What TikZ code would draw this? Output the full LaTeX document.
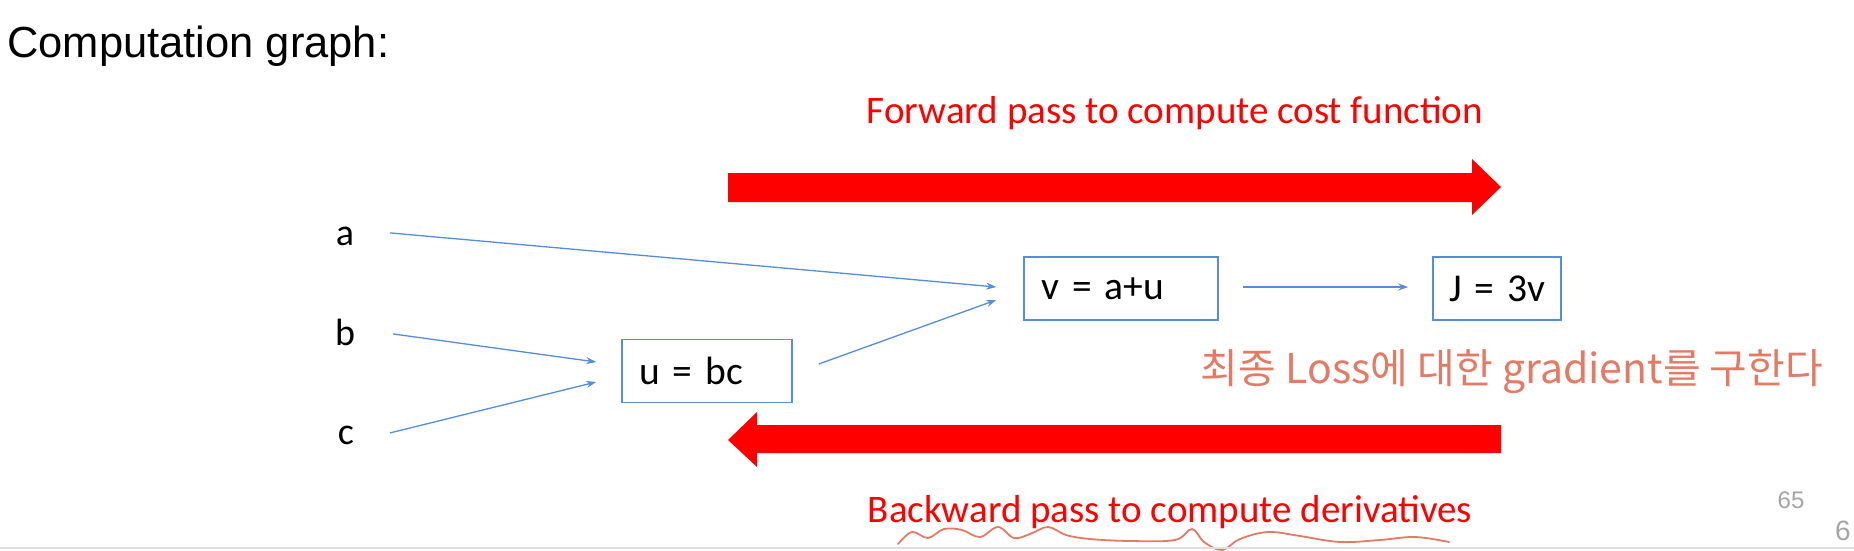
\documentclass[tikz,border=0pt]{standalone}
\usepackage{fontspec}
\setmainfont{Carlito}
\newfontfamily\arialfont{Liberation Sans}
\newfontfamily\krfont{Noto Sans CJK KR}
\usetikzlibrary{arrows.meta}
\definecolor{edgeblue}{RGB}{84,141,222}
\definecolor{hand}{RGB}{228,122,100}
\definecolor{pagegray}{RGB}{165,165,165}
\tikzset{
  lbl/.style={font=\fontsize{38}{44}\selectfont, inner sep=0pt, anchor=base},
  opbox/.style={draw=edgeblue, line width=1.5pt, minimum height=63pt, inner sep=0pt, align=left, font=\fontsize{39.5}{46}\selectfont},
  conn/.style={draw=edgeblue, line width=1.3pt, -{Stealth[length=10pt,width=7pt]}},
  bigarrow/.style={fill=red, draw=none},
  redtext/.style={text=red, font=\fontsize{39}{44}\selectfont, inner sep=0pt, anchor=base},
}
\begin{document}
\begin{tikzpicture}[x=1pt,y=-1pt]
\useasboundingbox (0,0) rectangle (1854,551);
\fill[white] (0,0) rectangle (1854,551);
% title
\node[anchor=base west, inner sep=0pt, font=\arialfont\fontsize{43.5}{50}\selectfont] (title) at (7,57) {Computation graph:};
% pass labels
\node[redtext] (fwd) at (1175,123) {Forward pass to compute cost function};
\node[redtext] (bwd) at (1170,522) {Backward pass to compute derivatives};
% big arrows
\fill[bigarrow] (728,173) -- (1472,173) -- (1472,159) -- (1501,187) -- (1472,215) -- (1472,202) -- (728,202) -- cycle;
\fill[bigarrow] (1501,425) -- (757,425) -- (757,412) -- (728,440) -- (757,467) -- (757,453) -- (1501,453) -- cycle;
% inputs
\node[lbl] (a) at (345,245) {a};
\node[lbl] (b) at (345,345) {b};
\node[lbl] (c) at (346,444) {c};
% operation boxes
\node[opbox, minimum width=170pt, text width=136pt] (u) at (707,371) {\mbox{u = bc}};
\node[opbox, minimum width=194pt, text width=160pt] (v) at (1121,288.5) {\mbox{v = a+u}};
\node[opbox, minimum width=128pt, text width=96pt] (J) at (1497,288.5) {\mbox{J = 3v}};
% connectors
\draw[conn] ([shift={(45,-3)}]a.center) -- ([shift={(-27,-1.5)}]v.west);
\draw[conn] ([shift={(48,2)}]b.center) -- ([shift={(-25,-9)}]u.west);
\draw[conn] ([shift={(44,-2)}]c.center) -- ([shift={(-25,11)}]u.west);
\draw[conn] ([shift={(26,-7)}]u.east) -- ([shift={(-27,11.5)}]v.west);
\draw[conn] ([shift={(24,-1.5)}]v.east) -- ([shift={(-24,-1.5)}]J.west);
% handwritten note
\node[anchor=center, inner sep=0pt, text=hand, font=\krfont\fontsize{41}{46}\selectfont] (note) at (1512,372) {최종 Loss에 대한 gradient를 구한다};
% squiggle under backward text
\draw[hand, line width=1.8pt, line cap=round, line join=round] plot[smooth, tension=0.6] coordinates {
  (898,544) (912,532) (928,538) (944,529) (962,530) (980,537) (998,527) (1014,538) (1030,534) (1048,527) (1066,535) (1090,539) (1130,541) (1175,540) (1192,529) (1204,542) (1222,550) (1240,539) (1268,532) (1300,536) (1340,542) (1380,540) (1415,537) (1449,542)};
% page numbers
\node[anchor=base, inner sep=0pt, text=pagegray, font=\arialfont\fontsize{24}{26}\selectfont] (pg) at (1791,508) {65};
\node[anchor=base west, inner sep=0pt, text=pagegray, font=\arialfont\fontsize{28}{30}\selectfont] (pg2) at (1835,540) {6};
\draw[gray!25, line width=2pt] (0,548) -- (1854,548);
\end{tikzpicture}
\end{document}
